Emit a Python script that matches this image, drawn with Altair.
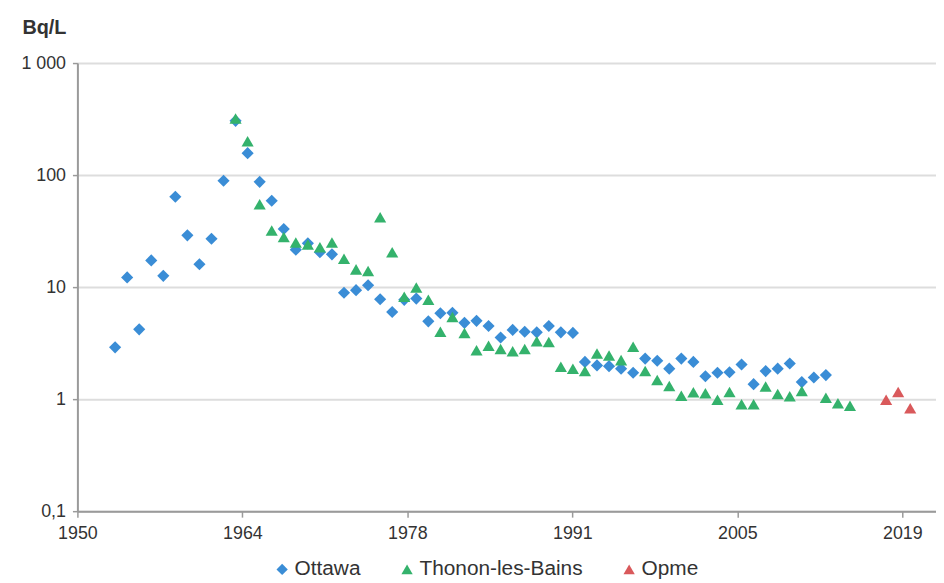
import altair as alt
import pandas as pd

# ---- data ----
ottawa_years = list(range(1953, 2013))
ottawa_values = [2.9, 12.2, 4.2, 17.3, 12.6, 64, 29, 16, 27, 89,
                 305, 157, 87, 59, 33, 21.6, 24.6, 20.5, 19.6, 8.9,
                 9.4, 10.4, 7.8, 6.0, 7.7, 7.9, 4.95, 5.85, 5.9, 4.8,
                 5.0, 4.5, 3.55, 4.15, 4.0, 3.95, 4.5, 3.95, 3.9, 2.15,
                 2.0, 1.97, 1.87, 1.72, 2.3, 2.2, 1.87, 2.3, 2.15, 1.6,
                 1.72, 1.74, 2.04, 1.36, 1.78, 1.87, 2.08, 1.42, 1.56, 1.64]

thonon_years = list(range(1963, 2011)) + [2012, 2013, 2014]
thonon_values = [320, 200, 55, 32, 28, 25, 24, 22.7, 25, 17.9,
                 14.4, 13.9, 42, 20.5, 8.2, 9.9, 7.7, 4.0, 5.4, 3.9,
                 2.73, 3.0, 2.8, 2.68, 2.8, 3.28, 3.24, 1.95, 1.87, 1.78,
                 2.55, 2.45, 2.23, 2.93, 1.78, 1.48, 1.31, 1.07, 1.15, 1.13,
                 0.99, 1.16, 0.90, 0.90, 1.30, 1.11, 1.06, 1.18,
                 1.03, 0.92, 0.875]

opme_years = [2017, 2018, 2019]
opme_values = [0.99, 1.16, 0.83]

series_names = ["Ottawa", "Thonon-les-Bains", "Opme"]
series_colors = ["#3a8dd6", "#34b26c", "#d9595b"]
series_shapes = ["diamond", "triangle-up", "triangle-up"]

x_tick_labels = ["1950", "1964", "1978", "1991", "2005", "2019"]
y_tick_values = [0.1, 1, 10, 100, 1000]
y_tick_labels = ["0,1", "1", "10", "100", "1 000"]

# ---- table ----
rows = []
for name, yrs, vals in [("Ottawa", ottawa_years, ottawa_values),
                        ("Thonon-les-Bains", thonon_years, thonon_values),
                        ("Opme", opme_years, opme_values)]:
    for yr, v in zip(yrs, vals):
        rows.append({"year": yr, "value": v, "site": name})
df = pd.DataFrame(rows)

# x scale: evenly spaced tick marks as in the reference
x_start = 1949.87
x_step = 13.695
x_end = 2021.14
x_tick_values = [round(x_start + i * x_step, 3) for i in range(len(x_tick_labels))]

def build_label_expr(values, labels, tol_expr):
    expr = "''"
    for v, lab in reversed(list(zip(values, labels))):
        expr = f"abs(datum.value - {v}) < {tol_expr(v)} ? '{lab}' : ({expr})"
    return expr

x_label_expr = build_label_expr(x_tick_values, x_tick_labels, lambda v: 0.5)
y_label_expr = build_label_expr(y_tick_values, y_tick_labels, lambda v: 0.01 * v)

font = "Liberation Sans"

legend_cfg = dict(title=None, orient="none", direction="horizontal",
                  legendX=196, legendY=500,
                  labelFontSize=21, labelFont=font,
                  labelColor="#333333", labelLimit=400,
                  symbolSize=130, labelOffset=2,
                  columnPadding=36, symbolStrokeWidth=0)

points = alt.Chart(df).mark_point(filled=True, opacity=1, size=150, strokeWidth=0).encode(
    x=alt.X("year:Q",
            scale=alt.Scale(domain=[x_start, x_end], nice=False, zero=False),
            axis=alt.Axis(values=x_tick_values, labelExpr=x_label_expr, title=None,
                          grid=False, labelFontSize=18, labelColor="#333333",
                          labelFont=font, tickColor="#9a9a9a", tickSize=6,
                          tickWidth=1.5, domainColor="#9a9a9a", domainWidth=2,
                          labelPadding=8, labelFlush=False)),
    y=alt.Y("value:Q",
            scale=alt.Scale(type="log", domain=[0.1, 1000], nice=False),
            axis=alt.Axis(values=y_tick_values, labelExpr=y_label_expr,
                          title="Bq/L", titleAngle=0, titleAlign="left",
                          titleBaseline="alphabetic", titleX=-56, titleY=-30,
                          titleFontSize=20, titleFontWeight="bold",
                          titleColor="#333333", titleFont=font,
                          grid=True, gridColor="#dddddd", gridWidth=2,
                          labelFontSize=18, labelColor="#333333", labelFont=font,
                          tickColor="#9a9a9a", tickSize=5, tickWidth=1.5,
                          domainColor="#9a9a9a", domainWidth=2, labelPadding=7)),
    color=alt.Color("site:N",
                    scale=alt.Scale(domain=series_names, range=series_colors),
                    legend=alt.Legend(**legend_cfg)),
    shape=alt.Shape("site:N",
                    scale=alt.Scale(domain=series_names, range=series_shapes),
                    legend=alt.Legend(**legend_cfg)),
    order=alt.Order("order:Q"),
).transform_calculate(
    order="datum.site == 'Ottawa' ? 0 : (datum.site == 'Thonon-les-Bains' ? 1 : 2)"
)

chart = points.properties(
    width=866, height=452,
    autosize=alt.AutoSizeParams(type="none"),
    padding={"left": 70, "top": 53, "right": 0, "bottom": 80},
).configure_view(stroke=None).configure(background="white")

chart.save("out.html", embed_options={"renderer": "svg", "actions": False})
